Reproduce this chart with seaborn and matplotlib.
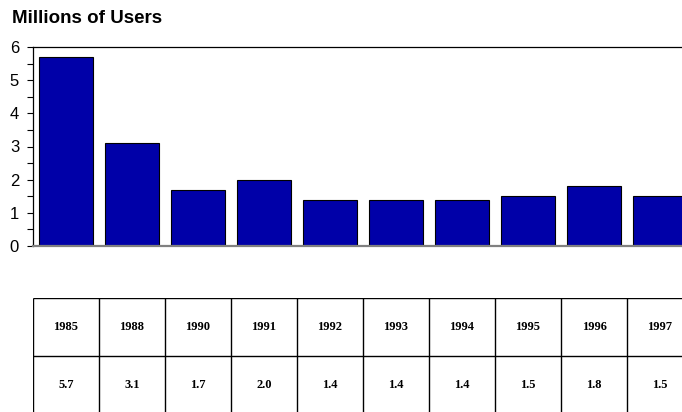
import matplotlib
matplotlib.use("Agg")
import matplotlib.pyplot as plt
import seaborn as sns
import pandas as pd
from matplotlib.ticker import MultipleLocator

years = ["1985", "1988", "1990", "1991", "1992", "1993", "1994", "1995", "1996", "1997"]
users = [5.7, 3.1, 1.7, 2.0, 1.4, 1.4, 1.4, 1.5, 1.8, 1.5]

df = pd.DataFrame({"year": years, "users": users})

sns.set_theme(style="white")
plt.rcParams["font.family"] = ["Liberation Sans", "DejaVu Sans"]
plt.rcParams["text.color"] = "black"
plt.rcParams["ytick.color"] = "black"
plt.rcParams["ytick.labelcolor"] = "black"

W, H = 682, 412
fig = plt.figure(figsize=(W / 100, H / 100), dpi=100)

# chart area: x 33..693 px, y 47..246 px
ax = fig.add_axes([33 / W, 1 - 246 / H, 660 / W, 199 / H])
sns.barplot(data=df, x="year", y="users", ax=ax, color="#0000a8",
            saturation=1, width=0.83, edgecolor="black", linewidth=0.8)
ax.set_xlim(-0.5, 9.5)
ax.set_ylim(0, 6)
ax.set_xlabel("")
ax.set_ylabel("")
ax.set_xticks([])
ax.yaxis.set_major_locator(MultipleLocator(1))
ax.yaxis.set_minor_locator(MultipleLocator(0.5))
ax.tick_params(axis="y", which="both", direction="out", left=True,
               length=4, width=0.8, color="black", labelsize=12, pad=6)
for s in ("left", "top", "right"):
    ax.spines[s].set_color("black")
    ax.spines[s].set_linewidth(0.9)
ax.spines["bottom"].set_color("#808080")
ax.spines["bottom"].set_linewidth(1.6)

fig.text(12 / W, 1 - 18.5 / H, "Millions of Users", fontsize=13.5,
         fontweight="bold", va="center", ha="left")

# data table below the chart: rows at y 298..356 and 356..414 px
tab = fig.add_axes([33 / W, 1 - 414 / H, 660 / W, 116 / H])
tab.set_xlim(-0.5, 9.5)
tab.set_ylim(0, 2)
tab.axis("off")
n = len(years)
tab.hlines([0, 1, 2], -0.5, n - 0.5, color="black", linewidth=1.0)
tab.vlines([i - 0.5 for i in range(n + 1)], 0, 2, color="black", linewidth=1.0)
for i, (yr, v) in enumerate(zip(years, users)):
    tab.text(i, 1.5, yr, ha="center", va="center", fontsize=9,
             fontweight="bold", family="Liberation Serif")
    tab.text(i, 0.5, f"{v:.1f}", ha="center", va="center", fontsize=9,
             fontweight="bold", family="Liberation Serif")

fig.savefig("out.png", dpi=100)
